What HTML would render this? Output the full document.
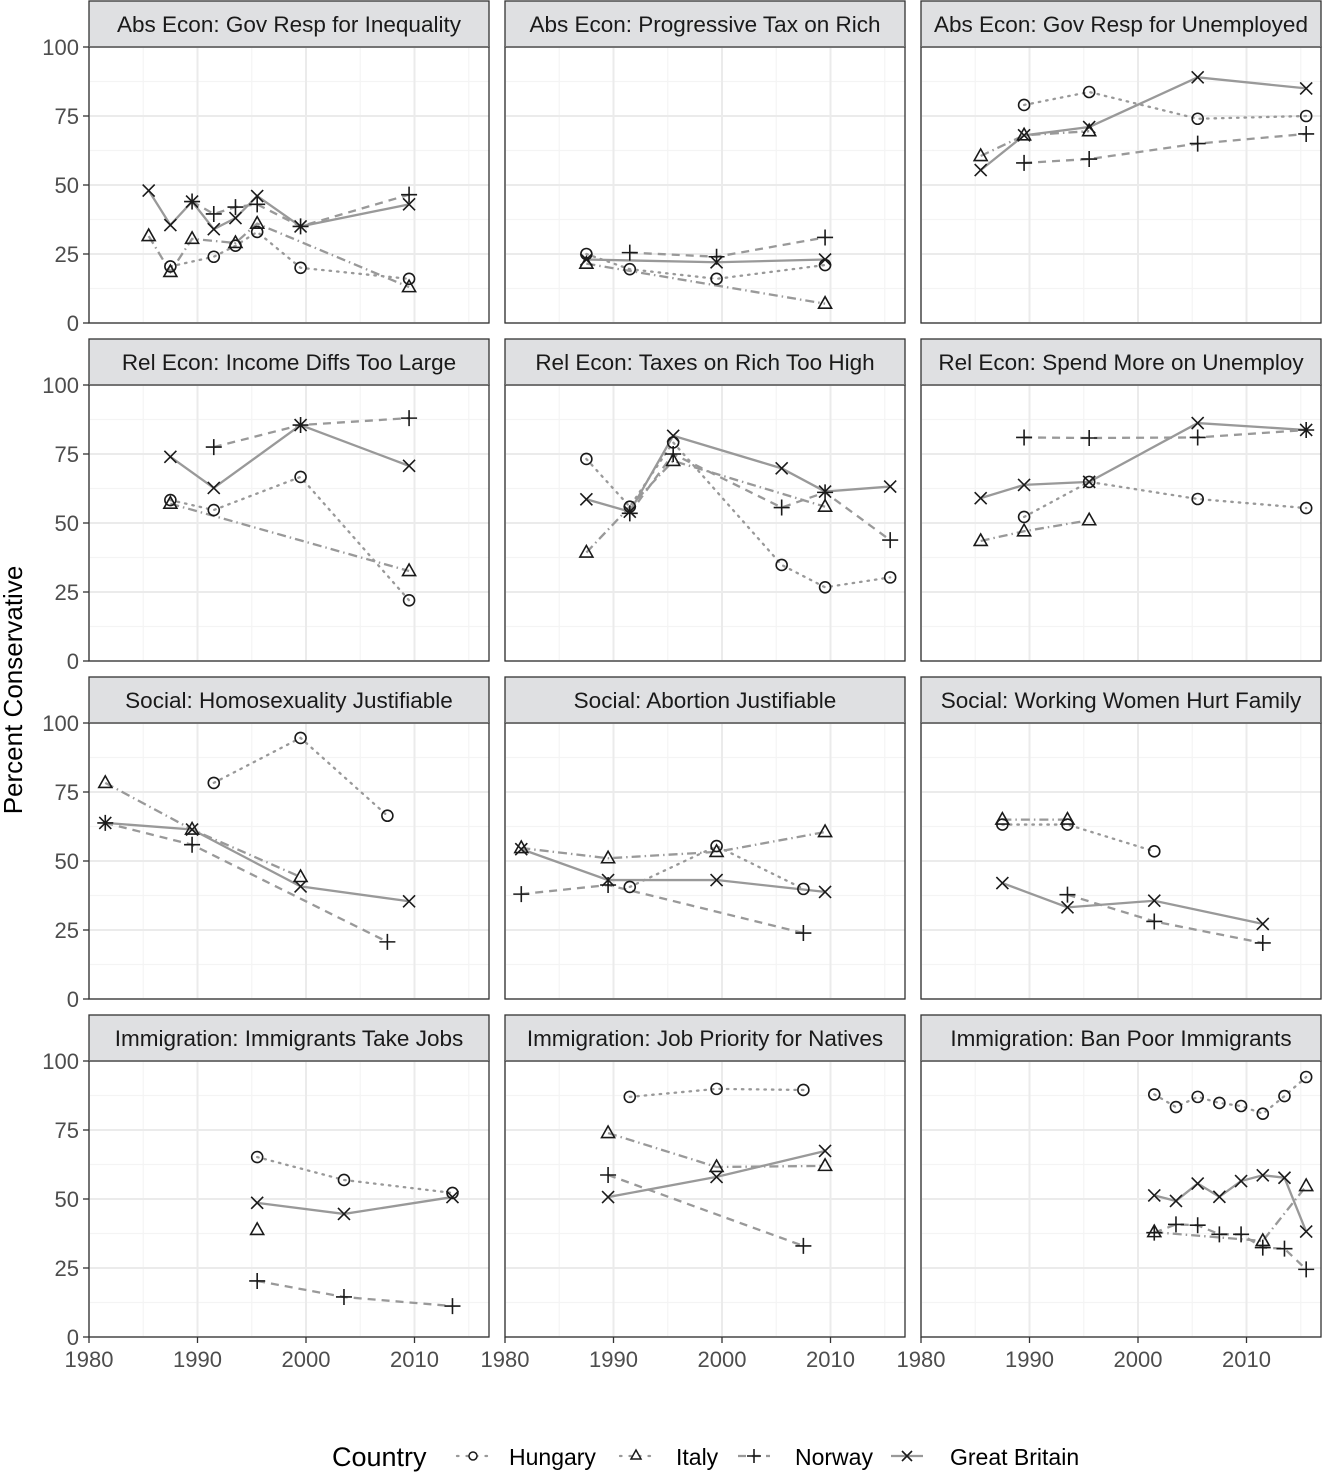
<!DOCTYPE html>
<html><head><meta charset="utf-8"><style>
html,body{margin:0;padding:0;background:#fff;}
svg text{font-family:"Liberation Sans",sans-serif;}
</style></head><body>
<svg id="chart" width="1322" height="1472" viewBox="0 0 1322 1472" xmlns="http://www.w3.org/2000/svg"></svg>
<script>
// ---- data (years, values) ----
const p1_HU_y=[1987.5,1991.5,1993.5,1995.5,1999.5,2009.5], p1_HU_v=[20.5,24,28,33,20,16];
const p1_IT_y=[1985.5,1987.5,1989.5,1993.5,1995.5,2009.5], p1_IT_v=[31.5,18.5,30.5,29,36,13];
const p1_NO_y=[1989.5,1991.5,1993.5,1995.5,1999.5,2009.5], p1_NO_v=[44,39.5,42,43,35,46.5];
const p1_GB_y=[1985.5,1987.5,1989.5,1991.5,1993.5,1995.5,1999.5,2009.5], p1_GB_v=[48,35.5,44,34,38,46,35,43];

const p2_HU_y=[1987.5,1991.5,1999.5,2009.5], p2_HU_v=[25,19.5,16,21];
const p2_IT_y=[1987.5,2009.5], p2_IT_v=[21.5,7];
const p2_NO_y=[1991.5,1999.5,2009.5], p2_NO_v=[25.5,24,31];
const p2_GB_y=[1987.5,1999.5,2009.5], p2_GB_v=[23,22,23];

const p3_HU_y=[1989.5,1995.5,2005.5,2015.5], p3_HU_v=[79,83.7,74,75];
const p3_IT_y=[1985.5,1989.5,1995.5], p3_IT_v=[60.5,68,69.5];
const p3_NO_y=[1989.5,1995.5,2005.5,2015.5], p3_NO_v=[58,59.4,65,68.5];
const p3_GB_y=[1985.5,1989.5,1995.5,2005.5,2015.5], p3_GB_v=[55.4,68,71,89,85];

const p4_HU_y=[1987.5,1991.5,1999.5,2009.5], p4_HU_v=[58.3,54.7,66.7,22];
const p4_IT_y=[1987.5,2009.5], p4_IT_v=[57,32.6];
const p4_NO_y=[1991.5,1999.5,2009.5], p4_NO_v=[77.5,85.5,88];
const p4_GB_y=[1987.5,1991.5,1999.5,2009.5], p4_GB_v=[74,62.7,85.5,70.7];

const p5_HU_y=[1987.5,1991.5,1995.5,2005.5,2009.5,2015.5], p5_HU_v=[73.2,55.9,79.2,34.8,26.7,30.3];
const p5_IT_y=[1987.5,1995.5,2009.5], p5_IT_v=[39.3,72.5,55.9];
const p5_NO_y=[1991.5,1995.5,2005.5,2009.5,2015.5], p5_NO_v=[53.5,75,55.6,61.1,43.8];
const p5_GB_y=[1987.5,1991.5,1995.5,2005.5,2009.5,2015.5], p5_GB_v=[58.6,54.1,81.6,69.8,61.4,63.2];

const p6_HU_y=[1989.5,1995.5,2005.5,2015.5], p6_HU_v=[52.2,64.9,58.7,55.4];
const p6_IT_y=[1985.5,1989.5,1995.5], p6_IT_v=[43.5,47,51];
const p6_NO_y=[1989.5,1995.5,2005.5,2015.5], p6_NO_v=[81,80.8,81,83.7];
const p6_GB_y=[1985.5,1989.5,1995.5,2005.5,2015.5], p6_GB_v=[59,63.8,64.9,86.2,83.7];

const p7_HU_y=[1991.5,1999.5,2007.5], p7_HU_v=[78.3,94.6,66.4];
const p7_IT_y=[1981.5,1989.5,1999.5], p7_IT_v=[78.3,61.4,44.2];
const p7_NO_y=[1981.5,1989.5,2007.5], p7_NO_v=[63.8,55.9,20.7];
const p7_GB_y=[1981.5,1989.5,1999.5,2009.5], p7_GB_v=[63.8,61.4,40.8,35.4];

const p8_HU_y=[1991.5,1999.5,2007.5], p8_HU_v=[40.6,55.4,39.9];
const p8_IT_y=[1981.5,1989.5,1999.5,2009.5], p8_IT_v=[54.7,51,53.3,60.5];
const p8_NO_y=[1981.5,1989.5,2007.5], p8_NO_v=[38,41.3,23.9];
const p8_GB_y=[1981.5,1989.5,1999.5,2009.5], p8_GB_v=[54.3,43.1,43.1,38.8];

const p9_HU_y=[1987.5,1993.5,2001.5], p9_HU_v=[63.2,63.2,53.5];
const p9_IT_y=[1987.5,1993.5], p9_IT_v=[65,65];
const p9_NO_y=[1993.5,2001.5,2011.5], p9_NO_v=[37.8,28.1,20.3];
const p9_GB_y=[1987.5,1993.5,2001.5,2011.5], p9_GB_v=[42,33.2,35.6,27.2];

const p10_HU_y=[1995.5,2003.5,2013.5], p10_HU_v=[65.2,56.9,52.2];
const p10_IT_y=[1995.5], p10_IT_v=[38.8];
const p10_NO_y=[1995.5,2003.5,2013.5], p10_NO_v=[20.3,14.5,11.2];
const p10_GB_y=[1995.5,2003.5,2013.5], p10_GB_v=[48.6,44.6,50.7];

const p11_HU_y=[1991.5,1999.5,2007.5], p11_HU_v=[87,89.9,89.5];
const p11_IT_y=[1989.5,1999.5,2009.5], p11_IT_v=[73.9,61.6,62];
const p11_NO_y=[1989.5,2007.5], p11_NO_v=[58.7,33];
const p11_GB_y=[1989.5,1999.5,2009.5], p11_GB_v=[50.7,58,67.4];

const p12_HU_y=[2001.5,2003.5,2005.5,2007.5,2009.5,2011.5,2013.5,2015.5], p12_HU_v=[87.9,83.3,87,84.8,83.7,80.9,87.3,94.2];
const p12_IT_y=[2001.5,2011.5,2015.5], p12_IT_v=[38,34.8,54.7];
const p12_NO_y=[2001.5,2003.5,2005.5,2007.5,2009.5,2011.5,2013.5,2015.5], p12_NO_v=[37.8,40.8,40.5,37.2,37.2,32.4,32,24.5];
const p12_GB_y=[2001.5,2003.5,2005.5,2007.5,2009.5,2011.5,2013.5,2015.5], p12_GB_v=[51.3,49.3,55.6,50.8,56.5,58.6,57.7,38.2];

const panelTitles=["Abs Econ: Gov Resp for Inequality","Abs Econ: Progressive Tax on Rich","Abs Econ: Gov Resp for Unemployed",
"Rel Econ: Income Diffs Too Large","Rel Econ: Taxes on Rich Too High","Rel Econ: Spend More on Unemploy",
"Social: Homosexuality Justifiable","Social: Abortion Justifiable","Social: Working Women Hurt Family",
"Immigration: Immigrants Take Jobs","Immigration: Job Priority for Natives","Immigration: Ban Poor Immigrants"];
const yTicks=[0,25,50,75,100];
const xTicks=[1980,1990,2000,2010];
const countries=["Hungary","Italy","Norway","Great Britain"];

const panelData=[
 [[p1_HU_y,p1_HU_v],[p1_IT_y,p1_IT_v],[p1_NO_y,p1_NO_v],[p1_GB_y,p1_GB_v]],
 [[p2_HU_y,p2_HU_v],[p2_IT_y,p2_IT_v],[p2_NO_y,p2_NO_v],[p2_GB_y,p2_GB_v]],
 [[p3_HU_y,p3_HU_v],[p3_IT_y,p3_IT_v],[p3_NO_y,p3_NO_v],[p3_GB_y,p3_GB_v]],
 [[p4_HU_y,p4_HU_v],[p4_IT_y,p4_IT_v],[p4_NO_y,p4_NO_v],[p4_GB_y,p4_GB_v]],
 [[p5_HU_y,p5_HU_v],[p5_IT_y,p5_IT_v],[p5_NO_y,p5_NO_v],[p5_GB_y,p5_GB_v]],
 [[p6_HU_y,p6_HU_v],[p6_IT_y,p6_IT_v],[p6_NO_y,p6_NO_v],[p6_GB_y,p6_GB_v]],
 [[p7_HU_y,p7_HU_v],[p7_IT_y,p7_IT_v],[p7_NO_y,p7_NO_v],[p7_GB_y,p7_GB_v]],
 [[p8_HU_y,p8_HU_v],[p8_IT_y,p8_IT_v],[p8_NO_y,p8_NO_v],[p8_GB_y,p8_GB_v]],
 [[p9_HU_y,p9_HU_v],[p9_IT_y,p9_IT_v],[p9_NO_y,p9_NO_v],[p9_GB_y,p9_GB_v]],
 [[p10_HU_y,p10_HU_v],[p10_IT_y,p10_IT_v],[p10_NO_y,p10_NO_v],[p10_GB_y,p10_GB_v]],
 [[p11_HU_y,p11_HU_v],[p11_IT_y,p11_IT_v],[p11_NO_y,p11_NO_v],[p11_GB_y,p11_GB_v]],
 [[p12_HU_y,p12_HU_v],[p12_IT_y,p12_IT_v],[p12_NO_y,p12_NO_v],[p12_GB_y,p12_GB_v]]
];

// ---- layout ----
const NS="http://www.w3.org/2000/svg";
const svg=document.getElementById('chart');
const colLeft=[89,505,921], PW=400, stripTops=[1,339,677,1015], SH=46, PH=276;
const PXY=10.85;
const dashes=["1.5,6","9,4,1.5,4","8,6",""];
function mk(tag,attrs,parent){const e=document.createElementNS(NS,tag);for(const k in attrs)e.setAttribute(k,attrs[k]);(parent||svg).appendChild(e);return e;}
function marker(kind,cx,cy,g){
  const st={stroke:"#1a1a1a","stroke-width":1.6,fill:"none"};
  let e;
  if(kind===0){e=mk('circle',Object.assign({cx:cx,cy:cy,r:5.5},st),g);}
  else if(kind===1){e=mk('path',Object.assign({d:`M${cx},${cy-7}L${cx+6.5},${cy+4.5}L${cx-6.5},${cy+4.5}Z`},st),g);}
  else if(kind===2){e=mk('path',Object.assign({d:`M${cx-8},${cy}H${cx+8}M${cx},${cy-8}V${cy+8}`},st),g);}
  else {e=mk('path',Object.assign({d:`M${cx-6},${cy-6}L${cx+6},${cy+6}M${cx+6},${cy-6}L${cx-6},${cy+6}`},st),g);}
  return e;
}

panelTitles.forEach((title,i)=>{
  const r=Math.floor(i/3), c=i%3;
  const L=colLeft[c], T=stripTops[r]+SH;
  const xs=yr=>L+(yr-1980)*PXY;
  const ys=v=>T+(100-v)*PH/100;
  const g=mk('g',{});
  
  
  const s=mk('rect',{x:L,y:stripTops[r],width:PW,height:SH,fill:"#dfe0e2",stroke:"#333","stroke-width":1.3},g);
  
  
  const st=mk('text',{x:L+PW/2,y:stripTops[r]+31,"text-anchor":"middle","font-size":22.5,fill:"#1a1a1a"},g);
  st.textContent=title;
  
  
  for(let v=12.5;v<100;v+=25) mk('line',{x1:L,x2:L+PW,y1:ys(v),y2:ys(v),stroke:"#f4f4f4","stroke-width":1.2},g);
  for(let yr=1985;yr<2018;yr+=10) mk('line',{x1:xs(yr),x2:xs(yr),y1:T,y2:T+PH,stroke:"#f4f4f4","stroke-width":1.2},g);
  yTicks.forEach(v=>mk('line',{x1:L,x2:L+PW,y1:ys(v),y2:ys(v),stroke:"#ebebeb","stroke-width":2},g));
  xTicks.forEach(yr=>mk('line',{x1:xs(yr),x2:xs(yr),y1:T,y2:T+PH,stroke:"#ebebeb","stroke-width":2},g));
  panelData[i].forEach((ser,k)=>{
    const [yy,vv]=ser;
    if(yy.length>1){
      const pts=yy.map((y,j)=>xs(y)+","+ys(vv[j])).join(" ");
      const pl=mk('polyline',{points:pts,fill:"none",stroke:"#999","stroke-width":2.3,"stroke-dasharray":dashes[k],"stroke-linecap":k===0?"round":"butt"},g);
      
      
    }
  });
  panelData[i].forEach((ser,k)=>{
    const [yy,vv]=ser;
    yy.forEach((y,j)=>{
      const m=marker(k,xs(y),ys(vv[j]),g);
      
      
    });
  });
  mk('rect',{x:L,y:T,width:PW,height:PH,fill:"none",stroke:"#333","stroke-width":1.3},g);
  if(c===0){
    yTicks.forEach(v=>{
      mk('line',{x1:L-6,x2:L,y1:ys(v),y2:ys(v),stroke:"#333","stroke-width":1.3},g);
      const t=mk('text',{x:L-10,y:ys(v)+8,"text-anchor":"end","font-size":22,fill:"#4d4d4d"},g);
      t.textContent=v;
      
      
    });
  }
  if(r===3){
    xTicks.forEach(yr=>{
      mk('line',{x1:xs(yr),x2:xs(yr),y1:T+PH,y2:T+PH+6,stroke:"#333","stroke-width":1.3},g);
      const t=mk('text',{x:xs(yr),y:T+PH+30,"text-anchor":"middle","font-size":22,fill:"#4d4d4d"},g);
      t.textContent=yr;
      
      
    });
  }
});

const yt=mk('text',{x:0,y:0,transform:"translate(22,690) rotate(-90)","text-anchor":"middle","font-size":26,fill:"#000"});
yt.textContent="Percent Conservative";



const lg=mk('g',{});


const lt=mk('text',{x:332,y:1466,"font-size":27,fill:"#000"},lg);
lt.textContent="Country";
const keyX=[473,636,754,907], labX=[509,676,795,950];
countries.forEach((cn,k)=>{
  const e=mk('g',{},lg);
  
  
  mk('line',{x1:keyX[k]-16,x2:keyX[k]+16,y1:1456,y2:1456,stroke:"#999","stroke-width":2.3,"stroke-dasharray":k===0?"1.5,8":(k===1?"1.5,8":dashes[k]),"stroke-linecap":k<2?"round":"butt"},e);
  if(k===0) mk('circle',{cx:keyX[k],cy:1456,r:4,stroke:"#1a1a1a","stroke-width":1.5,fill:"#fff"},e);
  else if(k===1) mk('path',{d:`M${keyX[k]},1450L${keyX[k]+5},1459L${keyX[k]-5},1459Z`,stroke:"#1a1a1a","stroke-width":1.5,fill:"#fff"},e);
  else if(k===2) mk('path',{d:`M${keyX[k]-7},1456H${keyX[k]+7}M${keyX[k]},1449V1463`,stroke:"#1a1a1a","stroke-width":1.6,fill:"none"},e);
  else mk('path',{d:`M${keyX[k]-5},1451L${keyX[k]+5},1461M${keyX[k]+5},1451L${keyX[k]-5},1461`,stroke:"#1a1a1a","stroke-width":1.6,fill:"none"},e);
  const t=mk('text',{x:labX[k],y:1465,"font-size":23,fill:"#000"},e);
  t.textContent=cn;
});
</script>
</body></html>
